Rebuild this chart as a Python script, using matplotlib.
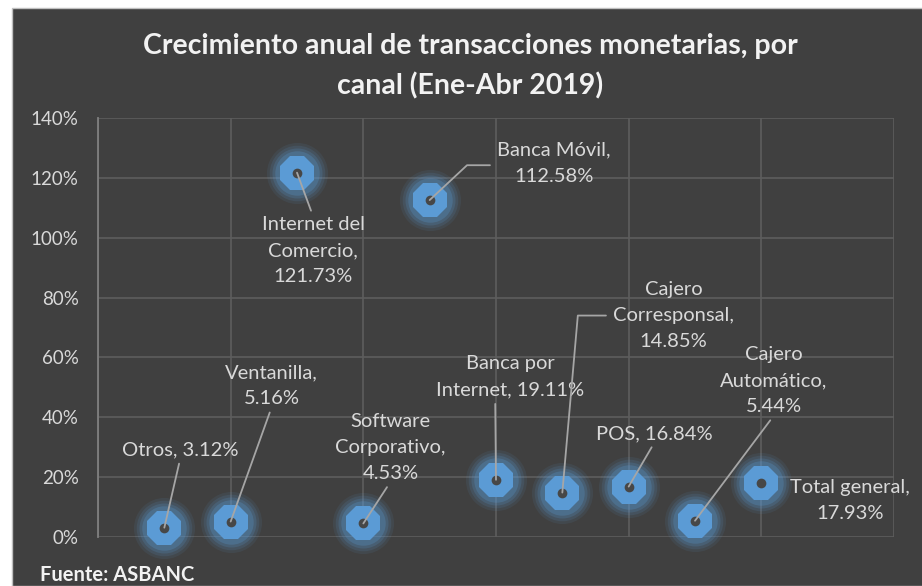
import matplotlib
matplotlib.use("Agg")
import matplotlib.pyplot as plt
from matplotlib.patches import Rectangle
from matplotlib.ticker import PercentFormatter

plt.rcParams['font.family'] = ['Lato', 'DejaVu Sans']

# datos (Ene-Abr 2019)
canales = ["Otros", "Ventanilla", "Internet del\nComercio", "Software\nCorporativo",
           "Banca Móvil", "Banca por\nInternet", "Cajero\nCorresponsal", "POS",
           "Cajero\nAutomático", "Total general"]
crecimiento = [3.12, 5.16, 121.73, 4.53, 112.58, 19.11, 14.85, 16.84, 5.44, 17.93]
posicion = [1, 2, 3, 4, 5, 6, 7, 8, 9, 10]
# valor en linea aparte o no
salto = [False, True, True, True, True, False, True, False, True, True]

# ubicacion de etiquetas: desplazamiento en pixeles, punto de anclaje, codo
etiquetas = [
    ((16, 78), (0.5, 0.0), None),
    ((41, 136), (0.5, 0.0), None),
    ((16, -78), (0.5, 1.0), None),
    ((27, 76), (0.5, 0.0), None),
    ((124, 37), (0.0, 0.45), 43),
    ((14, 103), (0.4, 0.0), None),
    ((111, 177), (0.0, 0.5), 85),
    ((26, 53), (0.5, 0.0), None),
    ((79, 140), (0.5, 0.0), None),
    ((89, -17), None, None),
]

fondo = "#404040"
azul = "#5B9BD5"
texto = "#D9D9D9"

fig = plt.figure(figsize=(9.22, 5.86), dpi=100, facecolor="white")
fig.patches.append(Rectangle((12 / 922, 0), 1, 1 - 8 / 586, transform=fig.transFigure,
                             facecolor=fondo, edgecolor="#BFBFBF", linewidth=1.0, zorder=-10))

ax = fig.add_axes([98 / 922, 49 / 586, 796 / 922, 419 / 586])
ax.set_facecolor(fondo)
ax.set_xlim(0, 12)
ax.set_ylim(0, 140)
ax.set_xticks(range(0, 13, 2))
ax.set_yticks(range(0, 141, 20))
ax.yaxis.set_major_formatter(PercentFormatter(decimals=0))
ax.tick_params(axis="x", length=0, labelbottom=False)
ax.tick_params(axis="y", length=0, colors=texto, labelsize=13.5, pad=14)
ax.grid(True, color="#5E5E5E", linewidth=1.2)
ax.set_axisbelow(True)
for lado in ["top", "right", "bottom"]:
    ax.spines[lado].set_visible(False)
ax.spines["left"].set_color("#808080")
ax.spines["left"].set_linewidth(1.3)

# brillo alrededor de los marcadores
for tam, alfa in [(44, 0.09), (40, 0.13), (36, 0.18), (32, 0.25)]:
    ax.plot(posicion, crecimiento, linestyle="none", marker="o", markersize=tam,
            markerfacecolor=azul, markeredgewidth=0, alpha=alfa, zorder=3, clip_on=False)
ax.plot(posicion, crecimiento, linestyle="none", marker="8", markersize=27,
        markerfacecolor=azul, markeredgewidth=0, zorder=4, clip_on=False)
ax.plot(posicion, crecimiento, linestyle="none", marker="o", markersize=7,
        markerfacecolor="#474747", markeredgewidth=0, zorder=5, clip_on=False)

for nombre, x, y, s, (desp, rel, codo) in zip(canales, posicion, crecimiento, salto, etiquetas):
    rotulo = f"{nombre},{chr(10) if s else ' '}{y:.2f}%"
    if rel is None:
        flecha = None
    elif codo is None:
        flecha = dict(arrowstyle="-", color="#A6A6A6", lw=1.3, relpos=rel,
                      shrinkA=2, shrinkB=0)
    else:
        flecha = dict(arrowstyle="-", color="#A6A6A6", lw=1.3, relpos=rel,
                      shrinkA=3, shrinkB=0,
                      connectionstyle=f"angle,angleA=0,angleB={codo},rad=0")
    ax.annotate(rotulo, xy=(x, y), xytext=desp, textcoords="offset pixels",
                ha="center", va="center", color=texto, fontsize=14.5,
                linespacing=1.65, arrowprops=flecha, zorder=6, annotation_clip=False)

fig.text(0.51, 0.887, "Crecimiento anual de transacciones monetarias, por\ncanal (Ene-Abr 2019)",
         ha="center", va="center", color="#F2F2F2", fontsize=20.5, fontweight="bold",
         linespacing=1.6)
fig.text(40 / 922, 11 / 586, "Fuente: ASBANC", ha="left", va="center",
         color="#F2F2F2", fontsize=14.5, fontweight="bold")

fig.savefig("out.png", dpi=100, facecolor="white")
